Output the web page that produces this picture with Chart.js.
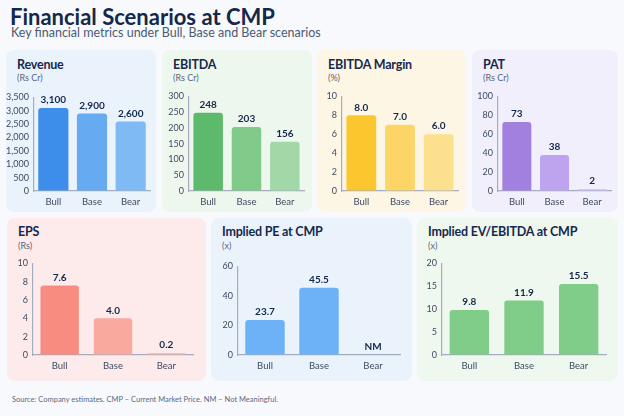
<!DOCTYPE html>
<html>
<head>
<meta charset="utf-8">
<script src="https://cdn.jsdelivr.net/npm/chart.js@4.4.1/dist/chart.umd.min.js"></script>
<style>
  html,body{margin:0;padding:0;}
  body{width:624px;height:416px;background:#f7f9fc;position:relative;overflow:hidden;font-family:Lato,"Noto Sans",sans-serif;}
  .title{position:absolute;left:10px;top:3px;font-size:22px;font-weight:700;color:#14284b;white-space:nowrap;}
  .subtitle{position:absolute;left:11px;top:25px;font-size:12.5px;color:#4b5b73;white-space:nowrap;}
  .panel{position:absolute;border-radius:8px;}
  .ptitle{position:absolute;left:11px;font-size:12.5px;font-weight:700;color:#16294d;white-space:nowrap;letter-spacing:-0.2px;}
  .unit{position:absolute;left:11px;font-size:9px;color:#56657c;white-space:nowrap;}
  .panel canvas{position:absolute;left:0;}
  .footer{position:absolute;left:12px;top:394.5px;font-size:7.5px;color:#5d6a7e;white-space:nowrap;}
</style>
</head>
<body>
<div class="title">Financial Scenarios at CMP</div>
<div class="subtitle">Key financial metrics under Bull, Base and Bear scenarios</div>
<div class="footer">Source: Company estimates. CMP – Current Market Price. NM – Not Meaningful.</div>
<script>
// ---- data ----
const scenarios = ['Bull', 'Base', 'Bear'];
const revenue = [3100, 2900, 2600];
const ebitda = [248, 203, 156];
const ebitdaMargin = [8.0, 7.0, 6.0];
const pat = [73, 38, 2];
const eps = [7.6, 4.0, 0.2];
const impliedPE = [23.7, 45.5, null];     // Bear: NM
const impliedEvEbitda = [9.8, 11.9, 15.5];
// y-axis ranges [max, step]
const revenueAxis = [3500, 500];
const ebitdaAxis = [300, 50];
const marginAxis = [10, 2];
const patAxis = [100, 20];
const epsAxis = [10, 2];
const peAxis = [60, 20];
const evAxis = [20, 5];

// ---- styles / layout ----
const panels = [
  {title:'Revenue', unit:'(Rs Cr)', data:revenue, axis:revenueAxis, dec:0, bg:'#eaf2fc',
   colors:['#3d8eea','#66aaf2','#80baf5'], box:[6,50,150,162], axisX:34, plotRight:150, yTop:97, yZero:191, bp:0.78},
  {title:'EBITDA', unit:'(Rs Cr)', data:ebitda, axis:ebitdaAxis, dec:0, bg:'#eef7ee',
   colors:['#5db96b','#80ca8a','#a2d8a8'], box:[162,50,150,162], axisX:189, plotRight:304, yTop:96, yZero:191, bp:0.77},
  {title:'EBITDA Margin', unit:'(%)', data:ebitdaMargin, axis:marginAxis, dec:1, bg:'#fdf6e4',
   colors:['#fcc62e','#fdd567','#fde08e'], box:[317,50,149,162], axisX:342, plotRight:458, yTop:96, yZero:191, bp:0.77},
  {title:'PAT', unit:'(Rs Cr)', data:pat, axis:patAxis, dec:0, bg:'#f1effb',
   colors:['#a280e0','#bea3ee','#d5c6f5'], box:[472,50,146,162], axisX:498, plotRight:611, yTop:96, yZero:191, bp:0.77},
  {title:'EPS', unit:'(Rs)', data:eps, axis:epsAxis, dec:1, bg:'#fcebea',
   colors:['#f98c81','#faa99f','#fbb3a8'], box:[7,218,199,163], axisX:33, plotRight:193, yTop:263, yZero:355, bp:0.72},
  {title:'Implied PE at CMP', unit:'(x)', data:impliedPE, axis:peAxis, dec:1, bg:'#eaf3fc',
   colors:['#6db1f6','#6db1f6','#6db1f6'], box:[211,218,201,163], axisX:238, plotRight:400, yTop:266, yZero:355, bp:0.73},
  {title:'Implied EV/EBITDA at CMP', unit:'(x)', data:impliedEvEbitda, axis:evAxis, dec:1, bg:'#eef8ee',
   colors:['#80cc89','#80cc89','#80cc89'], box:[417,218,201,163], axisX:442, plotRight:606, yTop:263, yZero:355, bp:0.72}
];

const valueLabels = {
  id:'valueLabels',
  afterDatasetsDraw(chart, args, opts){
    const {ctx} = chart;
    const meta = chart.getDatasetMeta(0);
    const ys = chart.scales.y;
    const ds = chart.data.datasets[0];
    ctx.save();
    ctx.font = 'bold 10px Lato, "Noto Sans", sans-serif';
    ctx.fillStyle = '#14284b';
    ctx.textAlign = 'center';
    ctx.textBaseline = 'middle';
    ds.data.forEach((v, i) => {
      const x = meta.data[i].x;
      const y = ys.getPixelForValue(v == null ? 0 : v) - 8;
      const txt = v == null ? 'NM' : v.toLocaleString('en-US', {minimumFractionDigits: opts.dec, maximumFractionDigits: opts.dec});
      ctx.fillText(txt, x, y);
    });
    ctx.restore();
  }
};

const axisColor = '#a3adbf';
const tickColor = '#3e4b62';

panels.forEach(p => {
  const [px, py, pw, ph] = p.box;
  const div = document.createElement('div');
  div.className = 'panel';
  Object.assign(div.style, {left:px+'px', top:py+'px', width:pw+'px', height:ph+'px', background:p.bg});
  const t = document.createElement('div');
  t.className = 'ptitle'; t.textContent = p.title; t.style.top = (py > 100 ? 6 : 6.5) + 'px';
  const u = document.createElement('div');
  u.className = 'unit'; u.textContent = p.unit; u.style.top = (py > 100 ? 21.5 : 22) + 'px';
  div.appendChild(t); div.appendChild(u);
  const padTop = 10, xH = 20;
  const cTop = p.yTop - padTop - py;
  const cH = p.yZero - p.yTop + padTop + xH;
  const cv = document.createElement('canvas');
  cv.width = pw; cv.height = cH;
  cv.style.top = cTop + 'px';
  cv.style.width = pw + 'px'; cv.style.height = cH + 'px';
  div.appendChild(cv);
  document.body.appendChild(div);

  new Chart(cv, {
    type:'bar',
    data:{labels:scenarios, datasets:[{data:p.data, backgroundColor:p.colors, borderRadius:3, borderSkipped:'bottom',
      barPercentage:p.bp, categoryPercentage:1}]},
    options:{
      responsive:false, animation:false, devicePixelRatio: window.devicePixelRatio || 1,
      layout:{padding:{top:padTop, right:(px+pw)-p.plotRight, left:0, bottom:0}},
      plugins:{legend:{display:false}, tooltip:{enabled:false}, valueLabels:{dec:p.dec}},
      scales:{
        x:{grid:{display:true, color:'rgba(0,0,0,0)', drawTicks:false},
           border:{display:true, color:axisColor, width:1.2},
           ticks:{color:tickColor, font:{size:9.5, family:'Lato, "Noto Sans", sans-serif'}, padding:5},
           afterFit(s){ s.height = xH; }},
        y:{min:0, max:p.axis[0], grid:{display:true, color:'rgba(0,0,0,0)', drawTicks:false},
           border:{display:true, color:axisColor, width:1.2},
           ticks:{stepSize:p.axis[1], autoSkip:false, color:tickColor, font:{size:9, family:'Lato, "Noto Sans", sans-serif'}, padding:5},
           afterFit(s){ s.width = p.axisX - px; }}
      }
    },
    plugins:[valueLabels]
  });
});
</script>
</body>
</html>
